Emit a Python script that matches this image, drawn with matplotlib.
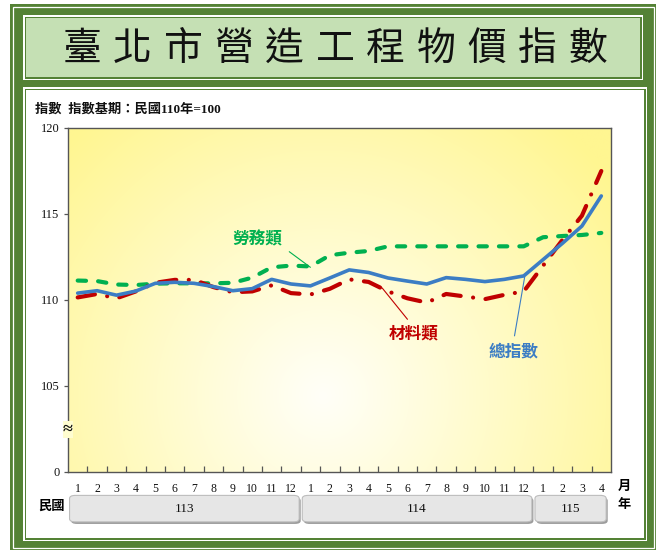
import numpy as np
import matplotlib
matplotlib.use("Agg")
import matplotlib.pyplot as plt
from matplotlib.patches import Rectangle, FancyBboxPatch
from matplotlib.transforms import blended_transform_factory

plt.rcParams['font.family'] = ['Liberation Serif', 'Noto Sans CJK TC']

# ---------------- data ----------------
title = "臺北市營造工程物價指數"
header = "指數  指數基期：民國110年=100"
months = [1, 2, 3, 4, 5, 6, 7, 8, 9, 10, 11, 12,
          1, 2, 3, 4, 5, 6, 7, 8, 9, 10, 11, 12,
          1, 2, 3, 4]
years = ["113", "114", "115"]
year_counts = [12, 12, 4]

total_index = [110.40, 110.54, 110.28, 110.52, 110.97, 111.03, 110.97, 110.78, 110.54, 110.66, 111.20, 110.93,
               110.82, 111.28, 111.75, 111.60, 111.28, 111.10, 110.93, 111.30, 111.20, 111.07, 111.20, 111.40,
               112.35, 113.30, 114.30, 116.05]
material = [110.15, 110.35, 110.10, 110.50, 111.00, 111.17, 111.17, 110.75, 110.45, 110.50, 110.85, 110.40,
            110.32, 110.65, 111.20, 111.05, 110.50, 110.10, 109.85, 110.35, 110.20, 110.05, 110.30, 110.50,
            112.00, 113.50, 114.90, 117.50]
labor = [111.13, 111.10, 110.90, 110.87, 110.95, 110.97, 110.97, 110.97, 111.00, 111.30, 111.90, 112.00,
         111.95, 112.60, 112.75, 112.85, 113.12, 113.12, 113.12, 113.12, 113.12, 113.12, 113.12, 113.12,
         113.65, 113.72, 113.78, 113.90]
series_names = ["總指數", "材料類", "勞務類"]

ytick_values = [100, 105, 110, 115, 120]
ytick_labels = ["0", "105", "110", "115", "120"]

# ---------------- styling ----------------
W, H = 656, 550
DARK_GREEN = "#548235"
LIGHT_GREEN = "#C5E0B4"
BLUE = "#3C7DC4"
RED = "#C00000"
GREEN = "#00B050"

fig = plt.figure(figsize=(W / 100, H / 100), dpi=100)
fig.patch.set_facecolor("white")

# background axes in pixel coordinates (frames)
bg = fig.add_axes([0, 0, 1, 1], zorder=0)
bg.set_xlim(0, W)
bg.set_ylim(H, 0)
bg.axis("off")

def rect(x0, y0, x1, y1, fc="none", ec="none", lw=0, z=1):
    bg.add_patch(Rectangle((x0, y0), x1 - x0, y1 - y0, facecolor=fc,
                           edgecolor=ec, linewidth=lw, zorder=z))

rect(10, 4, W, H, fc=DARK_GREEN, z=1)
rect(12.5, 6.5, W - 2.5, H - 2.5, ec="white", lw=0.9, z=2)
# title box
rect(23, 15, 643, 80, fc="white", z=3)
rect(24.5, 16.5, 641.5, 78.5, fc=DARK_GREEN, z=3)
rect(26, 18, 640, 77, fc=LIGHT_GREEN, z=4)
# chart panel
rect(23, 87, 647, 541, fc="white", z=3)
rect(24.5, 88.5, 645.5, 539.5, fc=DARK_GREEN, z=3)
rect(26, 90, 644, 538, fc="white", z=4)

# title characters spaced evenly
x_first, x_last = 82, 588
for i, ch in enumerate(title):
    x = x_first + i * (x_last - x_first) / (len(title) - 1)
    bg.text(x, 49, ch, fontsize=28, family=['Noto Sans CJK TC'],
            ha="center", va="center", color="#111111", zorder=5)

bg.text(35, 110, header, fontsize=9.5, fontweight="bold", ha="left",
        va="center", color="#111111", zorder=5)

# ---------------- main axes ----------------
L, R, T, B = 68, 611, 128, 472
ax = fig.add_axes([L / W, 1 - B / H, (R - L) / W, (B - T) / H], zorder=2)
ax.set_facecolor("none")
n = len(months)
x = np.arange(n)
ax.set_xlim(-0.5, n - 0.5)
ax.set_ylim(100, 120)

# radial gradient background
gu, gv = np.meshgrid(np.linspace(0, 1, 300), np.linspace(0, 1, 200))
d = np.sqrt(((gu - 0.47) * 1.58) ** 2 + (gv - 0.22) ** 2)
t = np.clip(d / 1.05, 0, 1) ** 1.05
c0 = np.array([255, 255, 248]) / 255
c1 = np.array([255, 246, 145]) / 255
img = c0[None, None, :] * (1 - t[..., None]) + c1[None, None, :] * t[..., None]
ax.imshow(img, extent=(-0.5, n - 0.5, 100, 120), origin="lower",
          aspect="auto", zorder=0, interpolation="bilinear")

# lines
lg, = ax.plot(x, labor, color=GREEN, lw=3.0, zorder=3,
              dash_capstyle="round", solid_capstyle="round")
lg.set_dashes((2.0, 2.9))
lr, = ax.plot(x, material, color=RED, lw=3.0, zorder=4,
              dash_capstyle="round")
lr.set_dashes((4.2, 3.0, 0.01, 3.0))
lb, = ax.plot(x, total_index, color=BLUE, lw=2.6, zorder=5,
              solid_joinstyle="round", solid_capstyle="round")

for sp in ax.spines.values():
    sp.set_color("#555555")
    sp.set_linewidth(1.0)

ax.set_yticks(ytick_values)
ax.set_yticklabels(ytick_labels, fontsize=9, color="#111111")
ax.tick_params(axis="y", direction="out", length=3, width=0.9, color="#555555", pad=3)

ax.set_xticks(x)
ax.set_xticklabels([str(m) for m in months], fontsize=8.5, color="#111111")
ax.tick_params(axis="x", which="major", length=0, pad=8)
ax.set_xticks(np.arange(0.5, n - 1, 1.0), minor=True)
ax.tick_params(axis="x", which="minor", direction="in", length=4, width=0.9, color="#555555")

# axis break mark
ax.text(-0.5, 102.5, "≈", fontsize=13, fontweight="bold", ha="center", va="center",
        color="#111111", zorder=6, clip_on=False,
        bbox=dict(boxstyle="square,pad=0.0", fc="#FFFDD0", ec="none"))

# annotations with leader lines
ax.annotate(series_names[2], xy=(12.0, labor[12] - 0.05), xytext=(9.25, 113.5),
            fontsize=12, fontweight="bold", color=GREEN, ha="center", va="center",
            arrowprops=dict(arrowstyle="-", color=GREEN, lw=0.8,
                            shrinkA=4, shrinkB=0, relpos=(1.0, 0.1)))
ax.annotate(series_names[1], xy=(15.7, 110.7), xytext=(17.3, 108.0),
            fontsize=12, fontweight="bold", color=RED, ha="center", va="center",
            arrowprops=dict(arrowstyle="-", color=RED, lw=0.8,
                            shrinkA=4, shrinkB=0, relpos=(0.5, 1.0)))
ax.annotate(series_names[0], xy=(23.05, total_index[23] - 0.05), xytext=(22.45, 106.97),
            fontsize=12, fontweight="bold", color=BLUE, ha="center", va="center",
            arrowprops=dict(arrowstyle="-", color=BLUE, lw=0.8,
                            shrinkA=4, shrinkB=0, relpos=(0.5, 1.0)))

# year boxes below axis
trans = blended_transform_factory(ax.transData, ax.transAxes)
start = 0
for yr, cnt in zip(years, year_counts):
    x0 = start - 0.5 + 0.08
    x1 = start + cnt - 0.5 - 0.08
    if start + cnt == n:
        x1 = n - 0.5 - 0.25
    y0, y1 = -0.145, -0.068
    shadow = FancyBboxPatch((x0 + 0.08, y0 - 0.006), x1 - x0, y1 - y0,
                            boxstyle="round,pad=0,rounding_size=0.3",
                            mutation_aspect=0.03,
                            transform=trans, clip_on=False, fc="#9C9C9C", ec="none", zorder=3)
    ax.add_patch(shadow)
    box = FancyBboxPatch((x0, y0), x1 - x0, y1 - y0,
                         boxstyle="round,pad=0,rounding_size=0.3",
                         mutation_aspect=0.03,
                         transform=trans, clip_on=False, fc="#E6E6E6", ec="#BDBDBD",
                         lw=0.8, zorder=4)
    ax.add_patch(box)
    ax.text((x0 + x1) / 2, (y0 + y1) / 2 - 0.002, yr, transform=trans, fontsize=9.5,
            ha="center", va="center", color="#111111", zorder=5, clip_on=False)
    start += cnt

bg.text(624, 487, "月", fontsize=9.5, fontweight="bold", ha="center", va="center", zorder=5)
bg.text(624, 505, "年", fontsize=9.5, fontweight="bold", ha="center", va="center", zorder=5)
bg.text(51, 507, "民國", fontsize=9.5, fontweight="bold", ha="center", va="center", zorder=5)

fig.savefig("out.png", dpi=100)
